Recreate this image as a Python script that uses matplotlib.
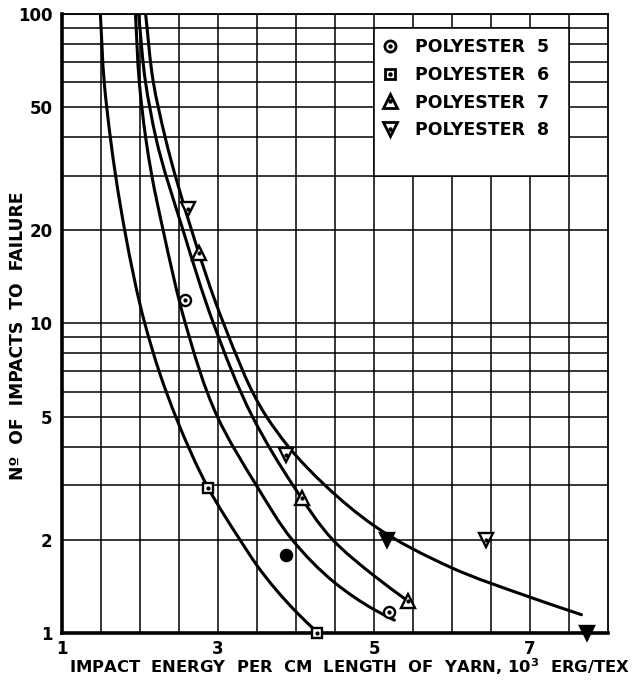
import matplotlib
matplotlib.use("Agg")
import numpy as np
import matplotlib.pyplot as plt
from matplotlib.lines import Line2D
from matplotlib.patches import Rectangle, PathPatch
from matplotlib.path import Path
from matplotlib.legend_handler import HandlerTuple
from matplotlib.ticker import FixedLocator, NullFormatter, LogLocator

# ---- data ----
series_names = ["POLYESTER  5", "POLYESTER  6", "POLYESTER  7", "POLYESTER  8"]
series_markers = ["o", "s", "^", "v"]

p5_x = [2.58, 3.87, 5.19]
p5_y = [11.9, 1.78, 1.165]
p5_filled = [False, True, False]

p6_x = [2.87, 4.27]
p6_y = [2.93, 1.0]
p6_filled = [False, False]

p7_x = [2.75, 4.08, 5.43]
p7_y = [16.9, 2.72, 1.27]
p7_filled = [False, False, False]

p8_x = [2.62, 3.87, 5.16, 6.44, 7.73]
p8_y = [23.4, 3.76, 2.0, 2.0, 1.0]
p8_filled = [False, False, True, False, True]

# fitted curves: points
c5_x = [1.94, 1.99, 2.07, 2.15, 2.295, 2.58, 2.99, 3.49, 3.95, 4.50, 5.00, 5.26]
c5_y = [100, 60, 40, 30, 20, 10, 5, 3, 2, 1.45, 1.19, 1.10]

c6_x = [1.49, 1.54, 1.62, 1.69, 1.81, 2.06, 2.26, 2.47, 2.87, 3.28, 3.50, 4.00, 4.28]
c6_y = [100, 60, 39.5, 29.5, 19.5, 10, 6.8, 4.9, 2.95, 2.0, 1.65, 1.17, 1.0]

c7_x = [1.98, 2.07, 2.20, 2.55, 2.94, 3.44, 3.96, 4.47, 5.00, 5.43]
c7_y = [100, 60, 40, 20, 10, 5, 3, 2, 1.53, 1.27]

c8_x = [2.07, 2.17, 2.32, 2.66, 3.07, 3.62, 3.90, 4.37, 5.00, 5.98, 6.98, 7.66]
c8_y = [100, 60, 40, 20, 10, 5, 4, 3, 2.22, 1.63, 1.31, 1.145]

x_ticks = [1, 3, 5, 7]
y_ticks = [1, 2, 5, 10, 20, 50, 100]


def smooth_path(xs, ys, sx=78.3, sy=309.5):
    """Chord-length Catmull-Rom curve through the read points, as cubic
    Bezier segments built in x / log10(y) space (smooth on the log axis)."""
    P = np.column_stack([np.asarray(xs, float) * sx,
                         np.log10(np.asarray(ys, float)) * sy])
    n = len(P)
    h = np.linalg.norm(np.diff(P, axis=0), axis=1)
    m = np.zeros_like(P)
    m[0] = (P[1] - P[0]) / h[0]
    m[-1] = (P[-1] - P[-2]) / h[-1]
    for i in range(1, n - 1):
        a = (P[i] - P[i - 1]) / h[i - 1]
        b = (P[i + 1] - P[i]) / h[i]
        m[i] = (a * h[i] + b * h[i - 1]) / (h[i - 1] + h[i])
    verts = [P[0]]
    codes = [Path.MOVETO]
    for i in range(n - 1):
        verts += [P[i] + m[i] * h[i] / 3.0, P[i + 1] - m[i + 1] * h[i] / 3.0, P[i + 1]]
        codes += [Path.CURVE4] * 3
    V = np.array(verts)
    V[:, 0] = V[:, 0] / sx
    V[:, 1] = 10 ** (V[:, 1] / sy)
    return Path(V, codes)


# ---- figure ----
plt.rcParams['font.family'] = ['DejaVu Sans']
fig = plt.figure(figsize=(6.34, 6.85), dpi=100)
ax = fig.add_axes([0.098, 0.076, 0.861, 0.904])

ax.set_yscale("log")
ax.set_xlim(1, 8)
ax.set_ylim(1, 100)

# grid
ax.xaxis.set_minor_locator(FixedLocator([1.5 + 0.5 * i for i in range(13)]))
ax.yaxis.set_minor_locator(LogLocator(base=10, subs=range(2, 10)))
ax.yaxis.set_minor_formatter(NullFormatter())
ax.grid(True, which="both", color="black", linewidth=1.1, zorder=0)
ax.set_axisbelow(True)

ax.set_xticks(x_ticks)
ax.set_xticklabels([str(t) for t in x_ticks])
ax.set_yticks(y_ticks)
ax.set_yticklabels([str(t) for t in y_ticks])
ax.tick_params(which="both", length=0, labelsize=12)
ax.tick_params(axis="y", pad=7)
ax.tick_params(axis="x", pad=5)
for lab in ax.get_xticklabels() + ax.get_yticklabels():
    lab.set_fontweight("bold")

for side in ["left", "bottom"]:
    ax.spines[side].set_linewidth(2.6)
for side in ["right", "top"]:
    ax.spines[side].set_linewidth(1.3)

# white legend area over the grid
ax.add_patch(Rectangle((5, 30), 2.5, 60, facecolor="white", edgecolor="black",
                       linewidth=1.1, zorder=1))

# curves
for cx, cy in [(c5_x, c5_y), (c6_x, c6_y), (c7_x, c7_y), (c8_x, c8_y)]:
    ax.add_patch(PathPatch(smooth_path(cx, cy), fill=False, edgecolor="black",
                           linewidth=2.2, zorder=3, capstyle="round"))

# points
ms = {"o": 8, "s": 7.5, "^": 10, "v": 10}
for (px, py, pf), m in zip([(p5_x, p5_y, p5_filled), (p6_x, p6_y, p6_filled),
                            (p7_x, p7_y, p7_filled), (p8_x, p8_y, p8_filled)],
                           series_markers):
    for xv, yv, f in zip(px, py, pf):
        ax.plot([xv], [yv], marker=m, markersize=ms[m],
                markerfacecolor="black" if f else "white",
                markeredgecolor="black", markeredgewidth=1.7,
                linestyle="none", zorder=5, clip_on=False)
        if not f:
            ax.plot([xv], [yv], marker="o", markersize=2, color="black",
                    linestyle="none", zorder=6, clip_on=False)

# legend
handles = []
for m in series_markers:
    h1 = Line2D([], [], marker=m, markersize=ms[m], markerfacecolor="white",
                markeredgecolor="black", markeredgewidth=2.0, linestyle="none")
    h2 = Line2D([], [], marker="o", markersize=2.2, color="black", linestyle="none")
    handles.append((h1, h2))
leg = ax.legend(handles, series_names, handler_map={tuple: HandlerTuple(ndivide=1)},
                loc="upper left", bbox_to_anchor=(0.585, 0.960), frameon=False,
                prop={"weight": "bold", "size": 12.5}, handlelength=1.0,
                handletextpad=0.95, labelspacing=0.55, borderaxespad=0, borderpad=0)
leg.set_zorder(7)

ax.set_xlabel("IMPACT  ENERGY  PER  CM  LENGTH  OF  YARN, 10$^{\\mathbf{3}}$  ERG/TEX",
              fontsize=11.8, fontweight="bold")
ax.xaxis.set_label_coords(0.526, -0.038)
ax.set_ylabel("N\u00ba  OF  IMPACTS  TO  FAILURE", fontsize=12.3, fontweight="bold")
ax.yaxis.set_label_coords(-0.064, 0.48)

fig.savefig("out.png", dpi=100)
